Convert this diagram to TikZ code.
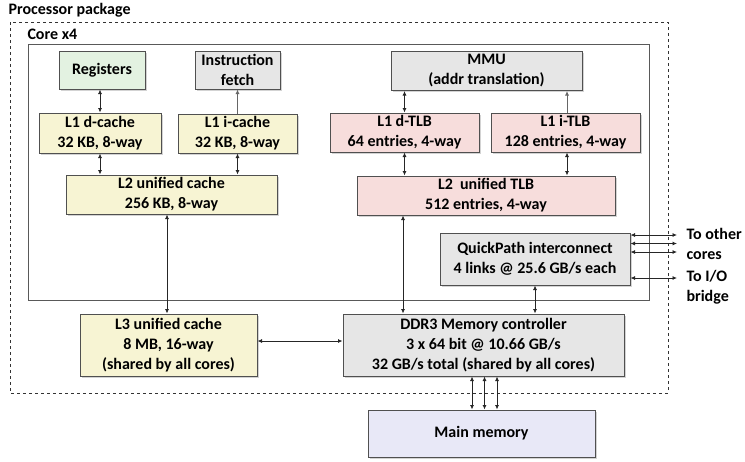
\documentclass[tikz,border=0pt]{standalone}
\usepackage{fontspec}
\setmainfont{Carlito}
\usetikzlibrary{arrows.meta,shadows}
\definecolor{regfill}{HTML}{E3F2E1}
\definecolor{cachefill}{HTML}{F7F4D3}
\definecolor{tlbfill}{HTML}{F7DDDC}
\definecolor{unitfill}{HTML}{E6E6E6}
\definecolor{memfill}{HTML}{E8E8F7}
\definecolor{edge}{HTML}{505050}
\begin{document}
\begin{tikzpicture}[x=1pt,y=-1pt,font=\fontsize{16}{20}\selectfont\bfseries,
  box/.style={draw=edge,line width=1pt,align=center,inner sep=0pt,
    drop shadow={shadow xshift=1.5pt,shadow yshift=-1.5pt,opacity=.35,fill=gray}},
  link/.style={<->,>={Latex[length=4.5pt,width=4pt]},line width=.8pt,black!85},
  uplink/.style={link,->,draw=black!60}]
  \useasboundingbox (0,0) rectangle (745,461);
  % package and core
  \draw[dashed,line width=.8pt,black!80] (10,22) rectangle (668,393);
  \draw[line width=1pt,black!65] (28,44) rectangle (649,300);
  \node[anchor=west] at (5,10) {Processor package};
  \node[anchor=west] at (24,34) {Core x4};
  % caches
  \node[box,fill=regfill,minimum width=86,minimum height=38] (reg) at (102,70) {Registers};
  \node[box,fill=unitfill,minimum width=85,minimum height=38] (ifetch) at (237.5,70) {Instruction\\fetch};
  \node[box,fill=cachefill,minimum width=122,minimum height=40] (l1d) at (100,133) {L1 d-cache\\32 KB, 8-way};
  \node[box,fill=cachefill,minimum width=119,minimum height=39] (l1i) at (237.5,133.5) {L1 i-cache\\32 KB, 8-way};
  \node[box,fill=cachefill,minimum width=211,minimum height=39] (l2) at (171.5,194.5) {L2 unified cache\\256 KB, 8-way};
  \node[box,fill=cachefill,minimum width=177,minimum height=62] (l3) at (168.5,345) {L3 unified cache\\8 MB, 16-way\\(shared by all cores)};
  % translation
  \node[box,fill=unitfill,minimum width=191,minimum height=39] (mmu) at (486.5,71) {MMU\\(addr translation)};
  \node[box,fill=tlbfill,minimum width=149,minimum height=39] (dtlb) at (404.5,132.5) {L1 d-TLB\\64 entries, 4-way};
  \node[box,fill=tlbfill,minimum width=149,minimum height=39] (itlb) at (565.5,132.5) {L1 i-TLB\\128 entries, 4-way};
  \node[box,fill=tlbfill,minimum width=258,minimum height=39] (l2tlb) at (486,195.5) {L2~ unified TLB\\512 entries, 4-way};
  % off-core
  \node[box,fill=unitfill,minimum width=190,minimum height=52] (qpi) at (535,259) {QuickPath interconnect\\4 links @ 25.6 GB/s each};
  \node[box,fill=unitfill,minimum width=281,minimum height=62] (ddr) at (483.5,345) {DDR3 Memory controller\\3 x 64 bit @ 10.66 GB/s\\32 GB/s total (shared by all cores)};
  \node[box,fill=memfill,minimum width=227,minimum height=47] (mem) at (481.5,433.5) {Main memory};
  \node[anchor=west,align=left] (cores) at (683,244) {To other\\cores};
  \node[anchor=west,align=left] (bridge) at (683,287) {To I/O\\bridge};
  \coordinate (ext) at (677,0);
  % connectors
  \draw[link] (reg.south -| l1d.north) -- (l1d.north);
  \draw[link] (l1d.south) -- (l1d.south |- l2.north);
  \draw[uplink] (l1i.north -| ifetch.south) -- (ifetch.south);
  \draw[link] (l1i.south) -- (l1i.south |- l2.north);
  \draw[link] (l2.south -| 167,0) -- (l3.north -| 167,0);
  \draw[link] (mmu.south -| dtlb.north) -- (dtlb.north);
  \draw[uplink] (itlb.north -| 567,0) -- (mmu.south -| 567,0);
  \draw[link] (dtlb.south) -- (dtlb.south |- l2tlb.north);
  \draw[link] (itlb.south -| 567,0) -- (l2tlb.north -| 567,0);
  \draw[link] (l2tlb.south -| 403,0) -- (ddr.north -| 403,0);
  \draw[link] (qpi.south) -- (qpi.south |- ddr.north);
  \draw[link] (l3.east |- 0,341) -- (ddr.west |- 0,341);
  \foreach \dx in {-11.5,1,13.5}
    \draw[link] ([xshift=\dx]ddr.south) -- ([xshift=\dx]ddr.south |- mem.north);
  \foreach \y in {235,243.5,252,278}
    \draw[link] (qpi.east |- 0,\y) -- (ext |- 0,\y);
\end{tikzpicture}
\end{document}
